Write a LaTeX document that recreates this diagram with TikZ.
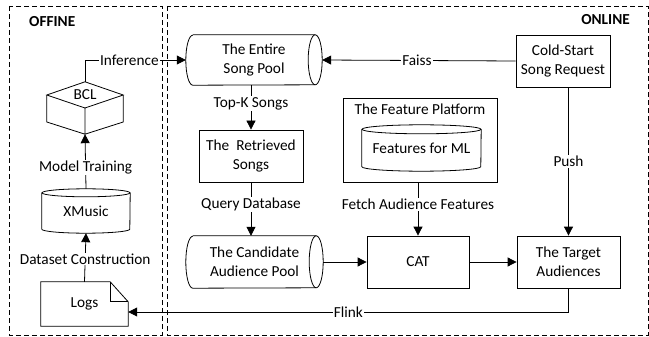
\documentclass[tikz,border=0pt]{standalone}
\usepackage{fontspec}
\setmainfont{Carlito}
\usetikzlibrary{arrows.meta}
% horizontal drum: #1 node, #2 cap x radius, #3 half height
\newcommand{\drawpool}[3]{%
  \draw[line width=0.8pt] ([xshift=#2]#1.north west) -- ([xshift=-#2]#1.north east)
    arc[start angle=90,end angle=-90,x radius=#2,y radius=#3]
    -- ([xshift=#2]#1.south west)
    arc[start angle=270,end angle=90,x radius=#2,y radius=#3];
  \draw[line width=0.8pt] ([xshift=-#2]#1.north east) arc[start angle=90,end angle=270,x radius=#2,y radius=#3];}
% upright drum: #1 node, #2 half width, #3 cap y radius
\newcommand{\drawdb}[3]{%
  \draw[line width=0.8pt] ([yshift=-#3]#1.north) ellipse[x radius=#2,y radius=#3];
  \draw[line width=0.8pt] ([yshift=-#3]#1.north west) -- ([yshift=#3]#1.south west)
    arc[start angle=180,end angle=360,x radius=#2,y radius=#3] -- ([yshift=-#3]#1.north east);}
\begin{document}
\begin{tikzpicture}[x=1pt,y=-1pt,
    font=\fontsize{15.3}{19}\selectfont,
    zone/.style={draw,line width=0.8pt,dash pattern=on 5pt off 3pt},
    block/.style={draw,line width=0.8pt,inner sep=0pt,align=center},
    shell/.style={inner sep=0pt,align=center},
    flow/.style={line width=0.8pt,-{Triangle[length=9pt,width=9pt]}},
    lbl/.style={fill=white,inner sep=1pt}]
  \useasboundingbox (0,0) rectangle (649,337);
  % the two zones
  \draw[zone] (9,6) rectangle (162,335);
  \draw[zone] (167,6) rectangle (648,335);
  \node[anchor=west,inner sep=0pt,font=\fontsize{15.3}{19}\selectfont\bfseries] (offtitle) at (29,22) {OFFINE};
  \node[anchor=east,inner sep=0pt,font=\fontsize{15.3}{19}\selectfont\bfseries] (ontitle) at (630,20) {ONLINE};

  % offline part
  \node[shell,minimum width=76pt,minimum height=52pt,label={[yshift=13pt]center:BCL}] (bcl) at (85,108) {};
  \draw[line width=0.8pt] ([yshift=13pt]bcl.west) -- (bcl.north) -- ([yshift=13pt]bcl.east) -- (bcl.center) -- cycle
    ([yshift=13pt]bcl.west) -- ([yshift=-14pt]bcl.west) -- (bcl.south) -- ([yshift=-14pt]bcl.east) -- ([yshift=13pt]bcl.east)
    (bcl.center) -- (bcl.south);
  \node[shell,minimum width=88pt,minimum height=44pt] (xmusic) at (86,211) {XMusic};
  \drawdb{xmusic}{44pt}{4pt}
  \node[shell,minimum width=87pt,minimum height=44pt] (logs) at (84.5,304) {Logs};
  \draw[line width=0.8pt] (logs.north west) -- ([xshift=-18pt]logs.north east) -- ([yshift=-20pt]logs.north east)
    -- (logs.south east) -- (logs.south west) -- cycle;
  \draw[line width=0.8pt] ([xshift=-18pt]logs.north east) |- ([yshift=-20pt]logs.north east);

  % online part
  \node[shell,minimum width=136pt,minimum height=50pt] (pool) at (254,60) {The Entire\\Song Pool};
  \drawpool{pool}{7pt}{25pt}
  \node[block,minimum width=94pt,minimum height=52pt] (cold) at (563,61) {Cold-Start\\Song Request};
  \node[block,minimum width=104pt,minimum height=52pt] (retr) at (251,156) {The\ \ Retrieved\\Songs};
  \node[block,minimum width=154pt,minimum height=84pt] (platform) at (420,140) {};
  \node (fptitle) at (420,109) {The Feature Platform};
  \node[shell,minimum width=119pt,minimum height=46pt] (feat) at (421.5,148) {Features for ML};
  \drawdb{feat}{59.5pt}{4.5pt}
  \node[shell,minimum width=137pt,minimum height=52pt] (cand) at (254.5,262) {The Candidate\\Audience Pool};
  \drawpool{cand}{7pt}{26pt}
  \node[block,minimum width=102pt,minimum height=52pt] (cat) at (418,262) {CAT};
  \node[block,minimum width=103pt,minimum height=52pt] (target) at (568.5,262) {The Target\\Audiences};

  % connectors
  \draw[flow] (bcl.north) |- node[lbl,pos=0.72]{Inference} (pool.west);
  \draw[flow] (xmusic.north) -- node[lbl,pos=0.39]{Model Training} (bcl.south);
  \draw[flow] (logs.north) -- node[lbl,pos=0.47]{Dataset Construction} (xmusic.south);
  \draw[flow] (cold.west) -- node[lbl,pos=0.51]{Faiss} (pool.east);
  \draw[flow] (retr.north |- pool.south) -- node[lbl,pos=0.41]{Top-K Songs} (retr.north);
  \draw[flow] (retr.south) -- node[lbl,pos=0.41]{Query Database} (retr.south |- cand.north);
  \draw[flow] (platform.south -| cat.north) -- node[lbl,pos=0.41]{Fetch Audience Features} (cat.north);
  \draw[flow] (cand.east) -- (cat.west);
  \draw[flow] (cat.east) -- (target.west);
  \draw[flow] (cold.south -| target.north) -- node[lbl,pos=0.5]{Push} (target.north);
  \draw[flow] (target.south) |- node[lbl,pos=0.75]{Flink} ([yshift=-8pt]logs.east);
\end{tikzpicture}
\end{document}
